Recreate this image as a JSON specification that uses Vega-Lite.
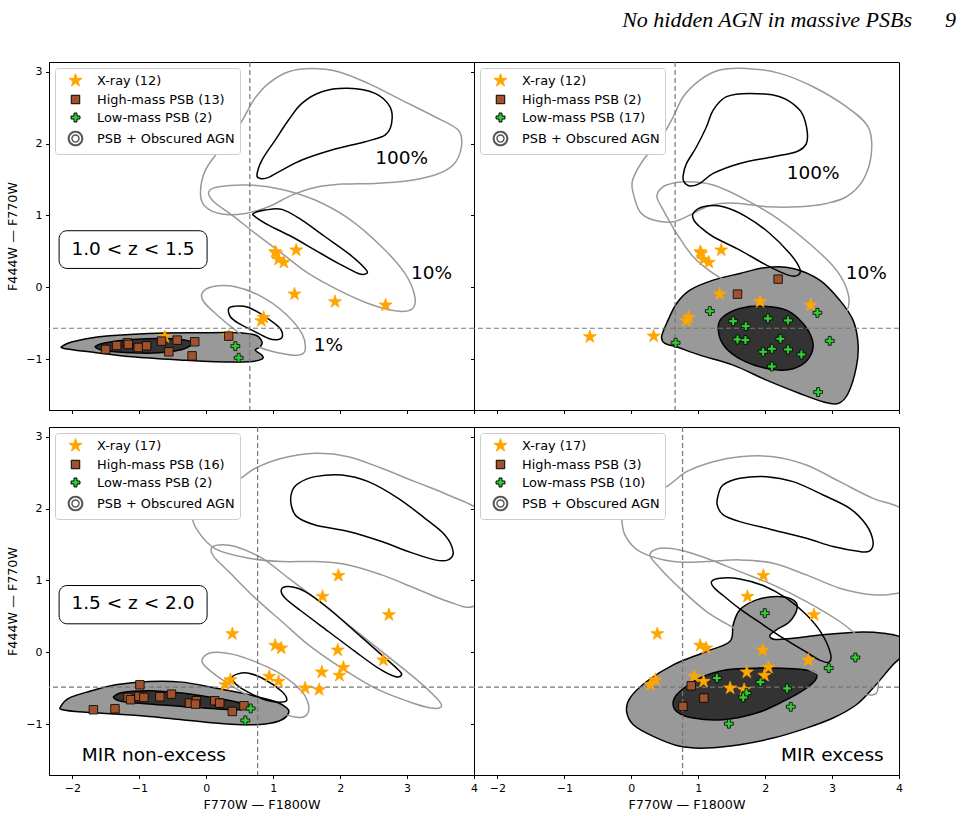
{
"$schema":"https://vega.github.io/schema/vega-lite/v6.json",
"padding":{"left":6,"top":8,"right":5,"bottom":5},
"title":{"text":"No hidden AGN in massive PSBs\u00a0\u00a0\u00a0\u00a0\u00a0\u00a09","anchor":"end","font":"Liberation Serif","fontStyle":"italic","fontWeight":"normal","fontSize":22,"color":"black","offset":29,"dx":53},
"config":{"font":"DejaVu Sans","view":{"stroke":"black","strokeWidth":1},
 "axis":{"domainColor":"black","tickColor":"black","tickSize":3.5,"labelColor":"black","labelFont":"DejaVu Sans","labelFontSize":11,"titleFont":"DejaVu Sans","titleFontSize":12.7,"titleFontWeight":"normal","titleColor":"black","grid":false,"labelPadding":3.5,"labelFlush":false,"format":"d"},
 "legend":{"title":null,"orient":"top-left","offset":6,"padding":5,"symbolOffset":8,"labelOffset":14,"rowPadding":3,"fillColor":"white","strokeColor":"#cccccc","cornerRadius":3,"labelFont":"DejaVu Sans","labelFontSize":12.9,"labelColor":"black","symbolSize":187,"symbolStrokeWidth":1,"symbolOpacity":1}},
"datasets":{
"contours":[
{"p":"TL","g":"psb_out","c":"o","i":0,"x":-2.149,"y":-0.821},{"p":"TL","g":"psb_out","c":"o","i":1,"x":-2.0,"y":-0.76},{"p":"TL","g":"psb_out","c":"o","i":2,"x":-1.603,"y":-0.691},{"p":"TL","g":"psb_out","c":"o","i":3,"x":-0.857,"y":-0.644},{"p":"TL","g":"psb_out","c":"o","i":4,"x":-0.112,"y":-0.635},{"p":"TL","g":"psb_out","c":"o","i":5,"x":0.434,"y":-0.635},{"p":"TL","g":"psb_out","c":"o","i":6,"x":0.732,"y":-0.667},{"p":"TL","g":"psb_out","c":"o","i":7,"x":0.832,"y":-0.76},{"p":"TL","g":"psb_out","c":"o","i":8,"x":0.807,"y":-0.83},{"p":"TL","g":"psb_out","c":"o","i":9,"x":0.732,"y":-0.876},{"p":"TL","g":"psb_out","c":"o","i":10,"x":0.832,"y":-0.946},{"p":"TL","g":"psb_out","c":"o","i":11,"x":0.832,"y":-1.002},{"p":"TL","g":"psb_out","c":"o","i":12,"x":0.633,"y":-1.039},{"p":"TL","g":"psb_out","c":"o","i":13,"x":0.136,"y":-1.039},{"p":"TL","g":"psb_out","c":"o","i":14,"x":-0.361,"y":-1.016},{"p":"TL","g":"psb_out","c":"o","i":15,"x":-1.106,"y":-0.969},{"p":"TL","g":"psb_out","c":"o","i":16,"x":-1.752,"y":-0.9},{"p":"TL","g":"psb_out","c":"o","i":17,"x":-2.124,"y":-0.853},
{"p":"TL","g":"psb_in","c":"i","i":0,"x":-1.652,"y":-0.821},{"p":"TL","g":"psb_in","c":"i","i":1,"x":-1.503,"y":-0.774},{"p":"TL","g":"psb_in","c":"i","i":2,"x":-1.106,"y":-0.728},{"p":"TL","g":"psb_in","c":"i","i":3,"x":-0.609,"y":-0.714},{"p":"TL","g":"psb_in","c":"i","i":4,"x":-0.311,"y":-0.737},{"p":"TL","g":"psb_in","c":"i","i":5,"x":-0.212,"y":-0.784},{"p":"TL","g":"psb_in","c":"i","i":6,"x":-0.361,"y":-0.867},{"p":"TL","g":"psb_in","c":"i","i":7,"x":-0.708,"y":-0.914},{"p":"TL","g":"psb_in","c":"i","i":8,"x":-1.106,"y":-0.914},{"p":"TL","g":"psb_in","c":"i","i":9,"x":-1.503,"y":-0.886},{"p":"TL","g":"psb_in","c":"i","i":10,"x":-1.627,"y":-0.853},
{"p":"TL","g":"agn_out","c":"100","i":0,"x":-0.087,"y":1.305},{"p":"TL","g":"agn_out","c":"100","i":1,"x":-0.013,"y":1.63},{"p":"TL","g":"agn_out","c":"100","i":2,"x":0.235,"y":1.955},{"p":"TL","g":"agn_out","c":"100","i":3,"x":0.509,"y":2.28},{"p":"TL","g":"agn_out","c":"100","i":4,"x":0.707,"y":2.605},{"p":"TL","g":"agn_out","c":"100","i":5,"x":0.931,"y":2.837},{"p":"TL","g":"agn_out","c":"100","i":6,"x":1.229,"y":3.0},{"p":"TL","g":"agn_out","c":"100","i":7,"x":1.577,"y":3.046},{"p":"TL","g":"agn_out","c":"100","i":8,"x":1.974,"y":3.0},{"p":"TL","g":"agn_out","c":"100","i":9,"x":2.421,"y":2.837},{"p":"TL","g":"agn_out","c":"100","i":10,"x":2.92,"y":2.605},{"p":"TL","g":"agn_out","c":"100","i":11,"x":3.415,"y":2.373},{"p":"TL","g":"agn_out","c":"100","i":12,"x":3.763,"y":2.188},{"p":"TL","g":"agn_out","c":"100","i":13,"x":3.812,"y":1.955},{"p":"TL","g":"agn_out","c":"100","i":14,"x":3.688,"y":1.7},{"p":"TL","g":"agn_out","c":"100","i":15,"x":3.415,"y":1.561},{"p":"TL","g":"agn_out","c":"100","i":16,"x":3.017,"y":1.482},{"p":"TL","g":"agn_out","c":"100","i":17,"x":2.521,"y":1.445},{"p":"TL","g":"agn_out","c":"100","i":18,"x":2.024,"y":1.435},{"p":"TL","g":"agn_out","c":"100","i":19,"x":1.626,"y":1.389},{"p":"TL","g":"agn_out","c":"100","i":20,"x":1.279,"y":1.282},{"p":"TL","g":"agn_out","c":"100","i":21,"x":0.931,"y":1.12},{"p":"TL","g":"agn_out","c":"100","i":22,"x":0.583,"y":1.027},{"p":"TL","g":"agn_out","c":"100","i":23,"x":0.235,"y":1.018},{"p":"TL","g":"agn_out","c":"100","i":24,"x":-0.013,"y":1.12},
{"p":"TL","g":"agn_out","c":"10","i":0,"x":0.037,"y":1.329},{"p":"TL","g":"agn_out","c":"10","i":1,"x":0.186,"y":1.398},{"p":"TL","g":"agn_out","c":"10","i":2,"x":0.633,"y":1.422},{"p":"TL","g":"agn_out","c":"10","i":3,"x":1.13,"y":1.361},{"p":"TL","g":"agn_out","c":"10","i":4,"x":1.626,"y":1.213},{"p":"TL","g":"agn_out","c":"10","i":5,"x":2.123,"y":0.957},{"p":"TL","g":"agn_out","c":"10","i":6,"x":2.62,"y":0.563},{"p":"TL","g":"agn_out","c":"10","i":7,"x":2.968,"y":0.191},{"p":"TL","g":"agn_out","c":"10","i":8,"x":3.117,"y":-0.134},{"p":"TL","g":"agn_out","c":"10","i":9,"x":3.067,"y":-0.31},{"p":"TL","g":"agn_out","c":"10","i":10,"x":2.819,"y":-0.329},{"p":"TL","g":"agn_out","c":"10","i":11,"x":2.421,"y":-0.227},{"p":"TL","g":"agn_out","c":"10","i":12,"x":1.974,"y":-0.041},{"p":"TL","g":"agn_out","c":"10","i":13,"x":1.527,"y":0.191},{"p":"TL","g":"agn_out","c":"10","i":14,"x":1.13,"y":0.47},{"p":"TL","g":"agn_out","c":"10","i":15,"x":0.732,"y":0.748},{"p":"TL","g":"agn_out","c":"10","i":16,"x":0.385,"y":1.004},{"p":"TL","g":"agn_out","c":"10","i":17,"x":0.112,"y":1.189},
{"p":"TL","g":"agn_out","c":"1","i":0,"x":-0.063,"y":-0.087},{"p":"TL","g":"agn_out","c":"1","i":1,"x":0.086,"y":0.006},{"p":"TL","g":"agn_out","c":"1","i":2,"x":0.434,"y":0.006},{"p":"TL","g":"agn_out","c":"1","i":3,"x":0.832,"y":-0.134},{"p":"TL","g":"agn_out","c":"1","i":4,"x":1.179,"y":-0.366},{"p":"TL","g":"agn_out","c":"1","i":5,"x":1.428,"y":-0.644},{"p":"TL","g":"agn_out","c":"1","i":6,"x":1.477,"y":-0.876},{"p":"TL","g":"agn_out","c":"1","i":7,"x":1.378,"y":-0.946},{"p":"TL","g":"agn_out","c":"1","i":8,"x":1.13,"y":-0.923},{"p":"TL","g":"agn_out","c":"1","i":9,"x":0.782,"y":-0.83},{"p":"TL","g":"agn_out","c":"1","i":10,"x":0.434,"y":-0.598},{"p":"TL","g":"agn_out","c":"1","i":11,"x":0.136,"y":-0.366},{"p":"TL","g":"agn_out","c":"1","i":12,"x":-0.038,"y":-0.203},
{"p":"TL","g":"agn_in","c":"100","i":0,"x":0.757,"y":1.561},{"p":"TL","g":"agn_in","c":"100","i":1,"x":0.832,"y":1.77},{"p":"TL","g":"agn_in","c":"100","i":2,"x":1.03,"y":2.048},{"p":"TL","g":"agn_in","c":"100","i":3,"x":1.229,"y":2.327},{"p":"TL","g":"agn_in","c":"100","i":4,"x":1.428,"y":2.559},{"p":"TL","g":"agn_in","c":"100","i":5,"x":1.726,"y":2.721},{"p":"TL","g":"agn_in","c":"100","i":6,"x":2.123,"y":2.768},{"p":"TL","g":"agn_in","c":"100","i":7,"x":2.521,"y":2.698},{"p":"TL","g":"agn_in","c":"100","i":8,"x":2.744,"y":2.513},{"p":"TL","g":"agn_in","c":"100","i":9,"x":2.769,"y":2.28},{"p":"TL","g":"agn_in","c":"100","i":10,"x":2.67,"y":2.118},{"p":"TL","g":"agn_in","c":"100","i":11,"x":2.372,"y":2.025},{"p":"TL","g":"agn_in","c":"100","i":12,"x":1.875,"y":1.909},{"p":"TL","g":"agn_in","c":"100","i":13,"x":1.428,"y":1.77},{"p":"TL","g":"agn_in","c":"100","i":14,"x":1.13,"y":1.63},{"p":"TL","g":"agn_in","c":"100","i":15,"x":0.931,"y":1.528},{"p":"TL","g":"agn_in","c":"100","i":16,"x":0.807,"y":1.514},
{"p":"TL","g":"agn_in","c":"10","i":0,"x":0.707,"y":1.027},{"p":"TL","g":"agn_in","c":"10","i":1,"x":0.881,"y":1.073},{"p":"TL","g":"agn_in","c":"10","i":2,"x":1.13,"y":1.083},{"p":"TL","g":"agn_in","c":"10","i":3,"x":1.428,"y":0.934},{"p":"TL","g":"agn_in","c":"10","i":4,"x":1.776,"y":0.702},{"p":"TL","g":"agn_in","c":"10","i":5,"x":2.123,"y":0.47},{"p":"TL","g":"agn_in","c":"10","i":6,"x":2.372,"y":0.261},{"p":"TL","g":"agn_in","c":"10","i":7,"x":2.396,"y":0.191},{"p":"TL","g":"agn_in","c":"10","i":8,"x":2.272,"y":0.191},{"p":"TL","g":"agn_in","c":"10","i":9,"x":1.974,"y":0.331},{"p":"TL","g":"agn_in","c":"10","i":10,"x":1.626,"y":0.516},{"p":"TL","g":"agn_in","c":"10","i":11,"x":1.279,"y":0.702},{"p":"TL","g":"agn_in","c":"10","i":12,"x":0.931,"y":0.864},{"p":"TL","g":"agn_in","c":"10","i":13,"x":0.732,"y":0.98},
{"p":"TL","g":"agn_in","c":"1","i":0,"x":0.335,"y":-0.296},{"p":"TL","g":"agn_in","c":"1","i":1,"x":0.434,"y":-0.264},{"p":"TL","g":"agn_in","c":"1","i":2,"x":0.633,"y":-0.282},{"p":"TL","g":"agn_in","c":"1","i":3,"x":0.881,"y":-0.412},{"p":"TL","g":"agn_in","c":"1","i":4,"x":1.08,"y":-0.552},{"p":"TL","g":"agn_in","c":"1","i":5,"x":1.14,"y":-0.668},{"p":"TL","g":"agn_in","c":"1","i":6,"x":1.08,"y":-0.728},{"p":"TL","g":"agn_in","c":"1","i":7,"x":0.931,"y":-0.714},{"p":"TL","g":"agn_in","c":"1","i":8,"x":0.683,"y":-0.598},{"p":"TL","g":"agn_in","c":"1","i":9,"x":0.484,"y":-0.505},{"p":"TL","g":"agn_in","c":"1","i":10,"x":0.36,"y":-0.412},
{"p":"TR","g":"psb_out","c":"o","i":0,"x":0.453,"y":-0.691},{"p":"TR","g":"psb_out","c":"o","i":1,"x":0.527,"y":-0.505},{"p":"TR","g":"psb_out","c":"o","i":2,"x":0.677,"y":-0.227},{"p":"TR","g":"psb_out","c":"o","i":3,"x":0.876,"y":-0.041},{"p":"TR","g":"psb_out","c":"o","i":4,"x":1.224,"y":0.098},{"p":"TR","g":"psb_out","c":"o","i":5,"x":1.622,"y":0.191},{"p":"TR","g":"psb_out","c":"o","i":6,"x":2.02,"y":0.275},{"p":"TR","g":"psb_out","c":"o","i":7,"x":2.418,"y":0.261},{"p":"TR","g":"psb_out","c":"o","i":8,"x":2.816,"y":0.098},{"p":"TR","g":"psb_out","c":"o","i":9,"x":3.114,"y":-0.18},{"p":"TR","g":"psb_out","c":"o","i":10,"x":3.313,"y":-0.459},{"p":"TR","g":"psb_out","c":"o","i":11,"x":3.388,"y":-0.784},{"p":"TR","g":"psb_out","c":"o","i":12,"x":3.363,"y":-1.109},{"p":"TR","g":"psb_out","c":"o","i":13,"x":3.239,"y":-1.48},{"p":"TR","g":"psb_out","c":"o","i":14,"x":3.09,"y":-1.619},{"p":"TR","g":"psb_out","c":"o","i":15,"x":2.866,"y":-1.596},{"p":"TR","g":"psb_out","c":"o","i":16,"x":2.517,"y":-1.48},{"p":"TR","g":"psb_out","c":"o","i":17,"x":2.02,"y":-1.294},{"p":"TR","g":"psb_out","c":"o","i":18,"x":1.522,"y":-1.085},{"p":"TR","g":"psb_out","c":"o","i":19,"x":1.025,"y":-0.946},{"p":"TR","g":"psb_out","c":"o","i":20,"x":0.677,"y":-0.83},{"p":"TR","g":"psb_out","c":"o","i":21,"x":0.502,"y":-0.784},
{"p":"TR","g":"psb_in","c":"i","i":0,"x":1.299,"y":-0.552},{"p":"TR","g":"psb_in","c":"i","i":1,"x":1.373,"y":-0.412},{"p":"TR","g":"psb_in","c":"i","i":2,"x":1.622,"y":-0.296},{"p":"TR","g":"psb_in","c":"i","i":3,"x":1.97,"y":-0.264},{"p":"TR","g":"psb_in","c":"i","i":4,"x":2.318,"y":-0.319},{"p":"TR","g":"psb_in","c":"i","i":5,"x":2.567,"y":-0.505},{"p":"TR","g":"psb_in","c":"i","i":6,"x":2.706,"y":-0.737},{"p":"TR","g":"psb_in","c":"i","i":7,"x":2.692,"y":-0.923},{"p":"TR","g":"psb_in","c":"i","i":8,"x":2.542,"y":-1.085},{"p":"TR","g":"psb_in","c":"i","i":9,"x":2.269,"y":-1.155},{"p":"TR","g":"psb_in","c":"i","i":10,"x":1.92,"y":-1.109},{"p":"TR","g":"psb_in","c":"i","i":11,"x":1.572,"y":-0.969},{"p":"TR","g":"psb_in","c":"i","i":12,"x":1.363,"y":-0.784},
{"p":"TR","g":"agn_out","c":"100","i":0,"x":0.03,"y":1.305},{"p":"TR","g":"agn_out","c":"100","i":1,"x":0.02,"y":1.491},{"p":"TR","g":"agn_out","c":"100","i":2,"x":0.179,"y":1.77},{"p":"TR","g":"agn_out","c":"100","i":3,"x":0.428,"y":2.048},{"p":"TR","g":"agn_out","c":"100","i":4,"x":0.627,"y":2.373},{"p":"TR","g":"agn_out","c":"100","i":5,"x":0.776,"y":2.652},{"p":"TR","g":"agn_out","c":"100","i":6,"x":1.025,"y":2.884},{"p":"TR","g":"agn_out","c":"100","i":7,"x":1.323,"y":3.023},{"p":"TR","g":"agn_out","c":"100","i":8,"x":1.721,"y":3.046},{"p":"TR","g":"agn_out","c":"100","i":9,"x":2.219,"y":2.977},{"p":"TR","g":"agn_out","c":"100","i":10,"x":2.716,"y":2.791},{"p":"TR","g":"agn_out","c":"100","i":11,"x":3.214,"y":2.513},{"p":"TR","g":"agn_out","c":"100","i":12,"x":3.537,"y":2.234},{"p":"TR","g":"agn_out","c":"100","i":13,"x":3.587,"y":1.863},{"p":"TR","g":"agn_out","c":"100","i":14,"x":3.463,"y":1.491},{"p":"TR","g":"agn_out","c":"100","i":15,"x":3.214,"y":1.259},{"p":"TR","g":"agn_out","c":"100","i":16,"x":2.915,"y":1.166},{"p":"TR","g":"agn_out","c":"100","i":17,"x":2.517,"y":1.12},{"p":"TR","g":"agn_out","c":"100","i":18,"x":2.02,"y":1.12},{"p":"TR","g":"agn_out","c":"100","i":19,"x":1.622,"y":1.166},{"p":"TR","g":"agn_out","c":"100","i":20,"x":1.323,"y":1.166},{"p":"TR","g":"agn_out","c":"100","i":21,"x":1.124,"y":1.12},{"p":"TR","g":"agn_out","c":"100","i":22,"x":0.876,"y":1.004},{"p":"TR","g":"agn_out","c":"100","i":23,"x":0.627,"y":0.911},{"p":"TR","g":"agn_out","c":"100","i":24,"x":0.328,"y":0.934},{"p":"TR","g":"agn_out","c":"100","i":25,"x":0.129,"y":1.05},
{"p":"TR","g":"agn_out","c":"10","i":0,"x":0.403,"y":1.329},{"p":"TR","g":"agn_out","c":"10","i":1,"x":0.527,"y":1.422},{"p":"TR","g":"agn_out","c":"10","i":2,"x":0.826,"y":1.468},{"p":"TR","g":"agn_out","c":"10","i":3,"x":1.224,"y":1.422},{"p":"TR","g":"agn_out","c":"10","i":4,"x":1.721,"y":1.213},{"p":"TR","g":"agn_out","c":"10","i":5,"x":2.219,"y":0.934},{"p":"TR","g":"agn_out","c":"10","i":6,"x":2.716,"y":0.563},{"p":"TR","g":"agn_out","c":"10","i":7,"x":3.065,"y":0.238},{"p":"TR","g":"agn_out","c":"10","i":8,"x":3.239,"y":-0.087},{"p":"TR","g":"agn_out","c":"10","i":9,"x":3.214,"y":-0.343},{"p":"TR","g":"agn_out","c":"10","i":10,"x":3.015,"y":-0.412},{"p":"TR","g":"agn_out","c":"10","i":11,"x":2.766,"y":-0.389},{"p":"TR","g":"agn_out","c":"10","i":12,"x":2.368,"y":-0.273},{"p":"TR","g":"agn_out","c":"10","i":13,"x":1.97,"y":-0.134},{"p":"TR","g":"agn_out","c":"10","i":14,"x":1.572,"y":0.006},{"p":"TR","g":"agn_out","c":"10","i":15,"x":1.224,"y":0.191},{"p":"TR","g":"agn_out","c":"10","i":16,"x":0.925,"y":0.423},{"p":"TR","g":"agn_out","c":"10","i":17,"x":0.677,"y":0.748},{"p":"TR","g":"agn_out","c":"10","i":18,"x":0.478,"y":1.073},{"p":"TR","g":"agn_out","c":"10","i":19,"x":0.388,"y":1.236},
{"p":"TR","g":"agn_in","c":"100","i":0,"x":0.776,"y":1.561},{"p":"TR","g":"agn_in","c":"100","i":1,"x":0.826,"y":1.723},{"p":"TR","g":"agn_in","c":"100","i":2,"x":0.975,"y":1.955},{"p":"TR","g":"agn_in","c":"100","i":3,"x":1.124,"y":2.234},{"p":"TR","g":"agn_in","c":"100","i":4,"x":1.224,"y":2.466},{"p":"TR","g":"agn_in","c":"100","i":5,"x":1.423,"y":2.652},{"p":"TR","g":"agn_in","c":"100","i":6,"x":1.771,"y":2.698},{"p":"TR","g":"agn_in","c":"100","i":7,"x":2.219,"y":2.652},{"p":"TR","g":"agn_in","c":"100","i":8,"x":2.517,"y":2.466},{"p":"TR","g":"agn_in","c":"100","i":9,"x":2.617,"y":2.234},{"p":"TR","g":"agn_in","c":"100","i":10,"x":2.617,"y":2.002},{"p":"TR","g":"agn_in","c":"100","i":11,"x":2.468,"y":1.886},{"p":"TR","g":"agn_in","c":"100","i":12,"x":2.119,"y":1.816},{"p":"TR","g":"agn_in","c":"100","i":13,"x":1.622,"y":1.723},{"p":"TR","g":"agn_in","c":"100","i":14,"x":1.224,"y":1.584},{"p":"TR","g":"agn_in","c":"100","i":15,"x":1.025,"y":1.445},{"p":"TR","g":"agn_in","c":"100","i":16,"x":0.876,"y":1.408},{"p":"TR","g":"agn_in","c":"100","i":17,"x":0.786,"y":1.468},
{"p":"TR","g":"agn_in","c":"10","i":0,"x":0.925,"y":1.027},{"p":"TR","g":"agn_in","c":"10","i":1,"x":1.075,"y":1.12},{"p":"TR","g":"agn_in","c":"10","i":2,"x":1.373,"y":1.12},{"p":"TR","g":"agn_in","c":"10","i":3,"x":1.721,"y":0.98},{"p":"TR","g":"agn_in","c":"10","i":4,"x":2.07,"y":0.748},{"p":"TR","g":"agn_in","c":"10","i":5,"x":2.368,"y":0.47},{"p":"TR","g":"agn_in","c":"10","i":6,"x":2.517,"y":0.261},{"p":"TR","g":"agn_in","c":"10","i":7,"x":2.493,"y":0.168},{"p":"TR","g":"agn_in","c":"10","i":8,"x":2.343,"y":0.168},{"p":"TR","g":"agn_in","c":"10","i":9,"x":2.02,"y":0.307},{"p":"TR","g":"agn_in","c":"10","i":10,"x":1.622,"y":0.516},{"p":"TR","g":"agn_in","c":"10","i":11,"x":1.224,"y":0.702},{"p":"TR","g":"agn_in","c":"10","i":12,"x":1.025,"y":0.841},{"p":"TR","g":"agn_in","c":"10","i":13,"x":0.935,"y":0.934},
{"p":"BL","g":"psb_out","c":"o","i":0,"x":-2.174,"y":-0.755},{"p":"BL","g":"psb_out","c":"o","i":1,"x":-2.05,"y":-0.639},{"p":"BL","g":"psb_out","c":"o","i":2,"x":-1.752,"y":-0.547},{"p":"BL","g":"psb_out","c":"o","i":3,"x":-1.354,"y":-0.454},{"p":"BL","g":"psb_out","c":"o","i":4,"x":-0.857,"y":-0.408},{"p":"BL","g":"psb_out","c":"o","i":5,"x":-0.361,"y":-0.417},{"p":"BL","g":"psb_out","c":"o","i":6,"x":0.136,"y":-0.5},{"p":"BL","g":"psb_out","c":"o","i":7,"x":0.633,"y":-0.593},{"p":"BL","g":"psb_out","c":"o","i":8,"x":1.03,"y":-0.686},{"p":"BL","g":"psb_out","c":"o","i":9,"x":1.204,"y":-0.778},{"p":"BL","g":"psb_out","c":"o","i":10,"x":1.229,"y":-0.848},{"p":"BL","g":"psb_out","c":"o","i":11,"x":1.13,"y":-0.941},{"p":"BL","g":"psb_out","c":"o","i":12,"x":0.881,"y":-1.001},{"p":"BL","g":"psb_out","c":"o","i":13,"x":0.534,"y":-1.01},{"p":"BL","g":"psb_out","c":"o","i":14,"x":0.136,"y":-0.987},{"p":"BL","g":"psb_out","c":"o","i":15,"x":-0.361,"y":-0.941},{"p":"BL","g":"psb_out","c":"o","i":16,"x":-0.857,"y":-0.894},{"p":"BL","g":"psb_out","c":"o","i":17,"x":-1.354,"y":-0.862},{"p":"BL","g":"psb_out","c":"o","i":18,"x":-1.851,"y":-0.834},{"p":"BL","g":"psb_out","c":"o","i":19,"x":-2.149,"y":-0.801},
{"p":"BL","g":"psb_in","c":"i","i":0,"x":-1.379,"y":-0.616},{"p":"BL","g":"psb_in","c":"i","i":1,"x":-1.255,"y":-0.56},{"p":"BL","g":"psb_in","c":"i","i":2,"x":-0.857,"y":-0.537},{"p":"BL","g":"psb_in","c":"i","i":3,"x":-0.361,"y":-0.57},{"p":"BL","g":"psb_in","c":"i","i":4,"x":0.136,"y":-0.639},{"p":"BL","g":"psb_in","c":"i","i":5,"x":0.484,"y":-0.7},{"p":"BL","g":"psb_in","c":"i","i":6,"x":0.583,"y":-0.755},{"p":"BL","g":"psb_in","c":"i","i":7,"x":0.509,"y":-0.802},{"p":"BL","g":"psb_in","c":"i","i":8,"x":0.136,"y":-0.788},{"p":"BL","g":"psb_in","c":"i","i":9,"x":-0.361,"y":-0.755},{"p":"BL","g":"psb_in","c":"i","i":10,"x":-0.857,"y":-0.723},{"p":"BL","g":"psb_in","c":"i","i":11,"x":-1.255,"y":-0.686},{"p":"BL","g":"psb_in","c":"i","i":12,"x":-1.364,"y":-0.649},
{"p":"BL","g":"agn_out","c":"100","i":0,"x":-0.212,"y":1.934},{"p":"BL","g":"agn_out","c":"100","i":1,"x":-0.112,"y":2.166},{"p":"BL","g":"agn_out","c":"100","i":2,"x":0.235,"y":2.328},{"p":"BL","g":"agn_out","c":"100","i":3,"x":0.509,"y":2.42},{"p":"BL","g":"agn_out","c":"100","i":4,"x":0.732,"y":2.56},{"p":"BL","g":"agn_out","c":"100","i":5,"x":1.13,"y":2.699},{"p":"BL","g":"agn_out","c":"100","i":6,"x":1.626,"y":2.768},{"p":"BL","g":"agn_out","c":"100","i":7,"x":2.123,"y":2.722},{"p":"BL","g":"agn_out","c":"100","i":8,"x":2.62,"y":2.56},{"p":"BL","g":"agn_out","c":"100","i":9,"x":3.117,"y":2.374},{"p":"BL","g":"agn_out","c":"100","i":10,"x":3.614,"y":2.189},{"p":"BL","g":"agn_out","c":"100","i":11,"x":4.11,"y":1.957},{"p":"BL","g":"agn_out","c":"100","i":12,"x":4.359,"y":1.54},{"p":"BL","g":"agn_out","c":"100","i":13,"x":4.259,"y":0.937},{"p":"BL","g":"agn_out","c":"100","i":14,"x":3.986,"y":0.636},{"p":"BL","g":"agn_out","c":"100","i":15,"x":3.614,"y":0.705},{"p":"BL","g":"agn_out","c":"100","i":16,"x":3.117,"y":0.891},{"p":"BL","g":"agn_out","c":"100","i":17,"x":2.62,"y":1.076},{"p":"BL","g":"agn_out","c":"100","i":18,"x":2.123,"y":1.215},{"p":"BL","g":"agn_out","c":"100","i":19,"x":1.626,"y":1.261},{"p":"BL","g":"agn_out","c":"100","i":20,"x":1.13,"y":1.261},{"p":"BL","g":"agn_out","c":"100","i":21,"x":0.633,"y":1.308},{"p":"BL","g":"agn_out","c":"100","i":22,"x":0.136,"y":1.438},{"p":"BL","g":"agn_out","c":"100","i":23,"x":-0.137,"y":1.702},
{"p":"BL","g":"agn_out","c":"10","i":0,"x":0.077,"y":1.447},{"p":"BL","g":"agn_out","c":"10","i":1,"x":0.186,"y":1.493},{"p":"BL","g":"agn_out","c":"10","i":2,"x":0.434,"y":1.47},{"p":"BL","g":"agn_out","c":"10","i":3,"x":0.832,"y":1.308},{"p":"BL","g":"agn_out","c":"10","i":4,"x":1.229,"y":1.03},{"p":"BL","g":"agn_out","c":"10","i":5,"x":1.626,"y":0.751},{"p":"BL","g":"agn_out","c":"10","i":6,"x":2.123,"y":0.381},{"p":"BL","g":"agn_out","c":"10","i":7,"x":2.62,"y":0.01},{"p":"BL","g":"agn_out","c":"10","i":8,"x":3.117,"y":-0.361},{"p":"BL","g":"agn_out","c":"10","i":9,"x":3.44,"y":-0.639},{"p":"BL","g":"agn_out","c":"10","i":10,"x":3.514,"y":-0.755},{"p":"BL","g":"agn_out","c":"10","i":11,"x":3.365,"y":-0.778},{"p":"BL","g":"agn_out","c":"10","i":12,"x":3.017,"y":-0.686},{"p":"BL","g":"agn_out","c":"10","i":13,"x":2.521,"y":-0.5},{"p":"BL","g":"agn_out","c":"10","i":14,"x":2.024,"y":-0.222},{"p":"BL","g":"agn_out","c":"10","i":15,"x":1.527,"y":0.102},{"p":"BL","g":"agn_out","c":"10","i":16,"x":1.13,"y":0.427},{"p":"BL","g":"agn_out","c":"10","i":17,"x":0.732,"y":0.752},{"p":"BL","g":"agn_out","c":"10","i":18,"x":0.335,"y":1.122},{"p":"BL","g":"agn_out","c":"10","i":19,"x":0.112,"y":1.331},
{"p":"BL","g":"agn_out","c":"1","i":0,"x":-0.053,"y":-0.083},{"p":"BL","g":"agn_out","c":"1","i":1,"x":0.086,"y":-0.004},{"p":"BL","g":"agn_out","c":"1","i":2,"x":0.384,"y":-0.027},{"p":"BL","g":"agn_out","c":"1","i":3,"x":0.782,"y":-0.152},{"p":"BL","g":"agn_out","c":"1","i":4,"x":1.13,"y":-0.315},{"p":"BL","g":"agn_out","c":"1","i":5,"x":1.428,"y":-0.547},{"p":"BL","g":"agn_out","c":"1","i":6,"x":1.527,"y":-0.732},{"p":"BL","g":"agn_out","c":"1","i":7,"x":1.502,"y":-0.871},{"p":"BL","g":"agn_out","c":"1","i":8,"x":1.378,"y":-0.908},{"p":"BL","g":"agn_out","c":"1","i":9,"x":1.13,"y":-0.848},{"p":"BL","g":"agn_out","c":"1","i":10,"x":0.782,"y":-0.686},{"p":"BL","g":"agn_out","c":"1","i":11,"x":0.434,"y":-0.5},{"p":"BL","g":"agn_out","c":"1","i":12,"x":0.136,"y":-0.315},{"p":"BL","g":"agn_out","c":"1","i":13,"x":-0.038,"y":-0.176},
{"p":"BL","g":"agn_in","c":"100","i":0,"x":1.279,"y":2.235},{"p":"BL","g":"agn_in","c":"100","i":1,"x":1.378,"y":2.351},{"p":"BL","g":"agn_in","c":"100","i":2,"x":1.626,"y":2.444},{"p":"BL","g":"agn_in","c":"100","i":3,"x":2.024,"y":2.467},{"p":"BL","g":"agn_in","c":"100","i":4,"x":2.421,"y":2.374},{"p":"BL","g":"agn_in","c":"100","i":5,"x":2.868,"y":2.142},{"p":"BL","g":"agn_in","c":"100","i":6,"x":3.266,"y":1.864},{"p":"BL","g":"agn_in","c":"100","i":7,"x":3.564,"y":1.632},{"p":"BL","g":"agn_in","c":"100","i":8,"x":3.688,"y":1.401},{"p":"BL","g":"agn_in","c":"100","i":9,"x":3.614,"y":1.285},{"p":"BL","g":"agn_in","c":"100","i":10,"x":3.415,"y":1.285},{"p":"BL","g":"agn_in","c":"100","i":11,"x":3.017,"y":1.401},{"p":"BL","g":"agn_in","c":"100","i":12,"x":2.62,"y":1.54},{"p":"BL","g":"agn_in","c":"100","i":13,"x":2.123,"y":1.679},{"p":"BL","g":"agn_in","c":"100","i":14,"x":1.626,"y":1.771},{"p":"BL","g":"agn_in","c":"100","i":15,"x":1.353,"y":1.887},{"p":"BL","g":"agn_in","c":"100","i":16,"x":1.269,"y":2.05},
{"p":"BL","g":"agn_in","c":"10","i":0,"x":1.12,"y":0.867},{"p":"BL","g":"agn_in","c":"10","i":1,"x":1.229,"y":0.914},{"p":"BL","g":"agn_in","c":"10","i":2,"x":1.477,"y":0.844},{"p":"BL","g":"agn_in","c":"10","i":3,"x":1.825,"y":0.612},{"p":"BL","g":"agn_in","c":"10","i":4,"x":2.222,"y":0.288},{"p":"BL","g":"agn_in","c":"10","i":5,"x":2.62,"y":-0.037},{"p":"BL","g":"agn_in","c":"10","i":6,"x":2.868,"y":-0.245},{"p":"BL","g":"agn_in","c":"10","i":7,"x":2.918,"y":-0.315},{"p":"BL","g":"agn_in","c":"10","i":8,"x":2.819,"y":-0.338},{"p":"BL","g":"agn_in","c":"10","i":9,"x":2.57,"y":-0.222},{"p":"BL","g":"agn_in","c":"10","i":10,"x":2.222,"y":0.01},{"p":"BL","g":"agn_in","c":"10","i":11,"x":1.825,"y":0.288},{"p":"BL","g":"agn_in","c":"10","i":12,"x":1.428,"y":0.566},{"p":"BL","g":"agn_in","c":"10","i":13,"x":1.179,"y":0.751},
{"p":"BL","g":"agn_in","c":"1","i":0,"x":0.384,"y":-0.361},{"p":"BL","g":"agn_in","c":"1","i":1,"x":0.459,"y":-0.306},{"p":"BL","g":"agn_in","c":"1","i":2,"x":0.633,"y":-0.292},{"p":"BL","g":"agn_in","c":"1","i":3,"x":0.881,"y":-0.384},{"p":"BL","g":"agn_in","c":"1","i":4,"x":1.13,"y":-0.547},{"p":"BL","g":"agn_in","c":"1","i":5,"x":1.204,"y":-0.662},{"p":"BL","g":"agn_in","c":"1","i":6,"x":1.13,"y":-0.695},{"p":"BL","g":"agn_in","c":"1","i":7,"x":0.931,"y":-0.676},{"p":"BL","g":"agn_in","c":"1","i":8,"x":0.683,"y":-0.584},{"p":"BL","g":"agn_in","c":"1","i":9,"x":0.484,"y":-0.477},
{"p":"BR","g":"psb_out","c":"o","i":0,"x":-0.07,"y":-0.825},{"p":"BR","g":"psb_out","c":"o","i":1,"x":-0.02,"y":-0.639},{"p":"BR","g":"psb_out","c":"o","i":2,"x":0.229,"y":-0.408},{"p":"BR","g":"psb_out","c":"o","i":3,"x":0.627,"y":-0.176},{"p":"BR","g":"psb_out","c":"o","i":4,"x":1.124,"y":0.01},{"p":"BR","g":"psb_out","c":"o","i":5,"x":1.473,"y":0.149},{"p":"BR","g":"psb_out","c":"o","i":6,"x":1.522,"y":0.381},{"p":"BR","g":"psb_out","c":"o","i":7,"x":1.622,"y":0.589},{"p":"BR","g":"psb_out","c":"o","i":8,"x":1.871,"y":0.728},{"p":"BR","g":"psb_out","c":"o","i":9,"x":2.169,"y":0.775},{"p":"BR","g":"psb_out","c":"o","i":10,"x":2.418,"y":0.728},{"p":"BR","g":"psb_out","c":"o","i":11,"x":2.478,"y":0.612},{"p":"BR","g":"psb_out","c":"o","i":12,"x":2.368,"y":0.427},{"p":"BR","g":"psb_out","c":"o","i":13,"x":2.169,"y":0.311},{"p":"BR","g":"psb_out","c":"o","i":14,"x":2.07,"y":0.232},{"p":"BR","g":"psb_out","c":"o","i":15,"x":2.144,"y":0.177},{"p":"BR","g":"psb_out","c":"o","i":16,"x":2.418,"y":0.195},{"p":"BR","g":"psb_out","c":"o","i":17,"x":2.866,"y":0.242},{"p":"BR","g":"psb_out","c":"o","i":18,"x":3.363,"y":0.279},{"p":"BR","g":"psb_out","c":"o","i":19,"x":3.761,"y":0.265},{"p":"BR","g":"psb_out","c":"o","i":20,"x":4.06,"y":0.195},{"p":"BR","g":"psb_out","c":"o","i":21,"x":4.109,"y":0.01},{"p":"BR","g":"psb_out","c":"o","i":22,"x":3.91,"y":-0.176},{"p":"BR","g":"psb_out","c":"o","i":23,"x":3.612,"y":-0.5},{"p":"BR","g":"psb_out","c":"o","i":24,"x":3.363,"y":-0.732},{"p":"BR","g":"psb_out","c":"o","i":25,"x":3.015,"y":-0.917},{"p":"BR","g":"psb_out","c":"o","i":26,"x":2.617,"y":-1.057},{"p":"BR","g":"psb_out","c":"o","i":27,"x":2.119,"y":-1.196},{"p":"BR","g":"psb_out","c":"o","i":28,"x":1.622,"y":-1.288},{"p":"BR","g":"psb_out","c":"o","i":29,"x":1.124,"y":-1.335},{"p":"BR","g":"psb_out","c":"o","i":30,"x":0.726,"y":-1.311},{"p":"BR","g":"psb_out","c":"o","i":31,"x":0.328,"y":-1.172},{"p":"BR","g":"psb_out","c":"o","i":32,"x":0.03,"y":-1.01},
{"p":"BR","g":"psb_in","c":"i","i":0,"x":0.627,"y":-0.686},{"p":"BR","g":"psb_in","c":"i","i":1,"x":0.726,"y":-0.547},{"p":"BR","g":"psb_in","c":"i","i":2,"x":1.025,"y":-0.361},{"p":"BR","g":"psb_in","c":"i","i":3,"x":1.423,"y":-0.245},{"p":"BR","g":"psb_in","c":"i","i":4,"x":1.92,"y":-0.222},{"p":"BR","g":"psb_in","c":"i","i":5,"x":2.418,"y":-0.231},{"p":"BR","g":"psb_in","c":"i","i":6,"x":2.716,"y":-0.269},{"p":"BR","g":"psb_in","c":"i","i":7,"x":2.766,"y":-0.361},{"p":"BR","g":"psb_in","c":"i","i":8,"x":2.617,"y":-0.5},{"p":"BR","g":"psb_in","c":"i","i":9,"x":2.269,"y":-0.686},{"p":"BR","g":"psb_in","c":"i","i":10,"x":1.871,"y":-0.848},{"p":"BR","g":"psb_in","c":"i","i":11,"x":1.373,"y":-0.941},{"p":"BR","g":"psb_in","c":"i","i":12,"x":0.925,"y":-0.918},{"p":"BR","g":"psb_in","c":"i","i":13,"x":0.677,"y":-0.825},
{"p":"BR","g":"agn_out","c":"100","i":0,"x":-0.144,"y":1.911},{"p":"BR","g":"agn_out","c":"100","i":1,"x":-0.119,"y":2.05},{"p":"BR","g":"agn_out","c":"100","i":2,"x":0.129,"y":2.142},{"p":"BR","g":"agn_out","c":"100","i":3,"x":0.527,"y":2.304},{"p":"BR","g":"agn_out","c":"100","i":4,"x":0.826,"y":2.513},{"p":"BR","g":"agn_out","c":"100","i":5,"x":1.224,"y":2.652},{"p":"BR","g":"agn_out","c":"100","i":6,"x":1.622,"y":2.722},{"p":"BR","g":"agn_out","c":"100","i":7,"x":2.119,"y":2.722},{"p":"BR","g":"agn_out","c":"100","i":8,"x":2.617,"y":2.606},{"p":"BR","g":"agn_out","c":"100","i":9,"x":3.114,"y":2.374},{"p":"BR","g":"agn_out","c":"100","i":10,"x":3.612,"y":2.142},{"p":"BR","g":"agn_out","c":"100","i":11,"x":3.985,"y":2.026},{"p":"BR","g":"agn_out","c":"100","i":12,"x":4.358,"y":1.771},{"p":"BR","g":"agn_out","c":"100","i":13,"x":4.408,"y":1.215},{"p":"BR","g":"agn_out","c":"100","i":14,"x":4.209,"y":0.891},{"p":"BR","g":"agn_out","c":"100","i":15,"x":3.985,"y":0.821},{"p":"BR","g":"agn_out","c":"100","i":16,"x":3.612,"y":0.798},{"p":"BR","g":"agn_out","c":"100","i":17,"x":3.114,"y":0.891},{"p":"BR","g":"agn_out","c":"100","i":18,"x":2.617,"y":1.076},{"p":"BR","g":"agn_out","c":"100","i":19,"x":2.119,"y":1.238},{"p":"BR","g":"agn_out","c":"100","i":20,"x":1.622,"y":1.285},{"p":"BR","g":"agn_out","c":"100","i":21,"x":1.124,"y":1.261},{"p":"BR","g":"agn_out","c":"100","i":22,"x":0.627,"y":1.261},{"p":"BR","g":"agn_out","c":"100","i":23,"x":0.129,"y":1.401},{"p":"BR","g":"agn_out","c":"100","i":24,"x":-0.095,"y":1.633},
{"p":"BR","g":"agn_out","c":"10","i":0,"x":0.279,"y":1.354},{"p":"BR","g":"agn_out","c":"10","i":1,"x":0.428,"y":1.447},{"p":"BR","g":"agn_out","c":"10","i":2,"x":0.726,"y":1.424},{"p":"BR","g":"agn_out","c":"10","i":3,"x":1.124,"y":1.308},{"p":"BR","g":"agn_out","c":"10","i":4,"x":1.622,"y":1.122},{"p":"BR","g":"agn_out","c":"10","i":5,"x":2.119,"y":0.937},{"p":"BR","g":"agn_out","c":"10","i":6,"x":2.617,"y":0.705},{"p":"BR","g":"agn_out","c":"10","i":7,"x":3.114,"y":0.427},{"p":"BR","g":"agn_out","c":"10","i":8,"x":3.463,"y":0.149},{"p":"BR","g":"agn_out","c":"10","i":9,"x":3.662,"y":-0.176},{"p":"BR","g":"agn_out","c":"10","i":10,"x":3.687,"y":-0.5},{"p":"BR","g":"agn_out","c":"10","i":11,"x":3.612,"y":-0.593},{"p":"BR","g":"agn_out","c":"10","i":12,"x":3.413,"y":-0.57},{"p":"BR","g":"agn_out","c":"10","i":13,"x":3.114,"y":-0.454},{"p":"BR","g":"agn_out","c":"10","i":14,"x":2.617,"y":-0.222},{"p":"BR","g":"agn_out","c":"10","i":15,"x":2.119,"y":0.01},{"p":"BR","g":"agn_out","c":"10","i":16,"x":1.622,"y":0.288},{"p":"BR","g":"agn_out","c":"10","i":17,"x":1.124,"y":0.566},{"p":"BR","g":"agn_out","c":"10","i":18,"x":0.726,"y":0.891},{"p":"BR","g":"agn_out","c":"10","i":19,"x":0.428,"y":1.169},
{"p":"BR","g":"agn_in","c":"100","i":0,"x":1.299,"y":2.189},{"p":"BR","g":"agn_in","c":"100","i":1,"x":1.373,"y":2.328},{"p":"BR","g":"agn_in","c":"100","i":2,"x":1.622,"y":2.42},{"p":"BR","g":"agn_in","c":"100","i":3,"x":2.02,"y":2.444},{"p":"BR","g":"agn_in","c":"100","i":4,"x":2.418,"y":2.374},{"p":"BR","g":"agn_in","c":"100","i":5,"x":2.866,"y":2.189},{"p":"BR","g":"agn_in","c":"100","i":6,"x":3.264,"y":2.003},{"p":"BR","g":"agn_in","c":"100","i":7,"x":3.512,"y":1.771},{"p":"BR","g":"agn_in","c":"100","i":8,"x":3.612,"y":1.54},{"p":"BR","g":"agn_in","c":"100","i":9,"x":3.562,"y":1.41},{"p":"BR","g":"agn_in","c":"100","i":10,"x":3.413,"y":1.401},{"p":"BR","g":"agn_in","c":"100","i":11,"x":3.015,"y":1.47},{"p":"BR","g":"agn_in","c":"100","i":12,"x":2.617,"y":1.586},{"p":"BR","g":"agn_in","c":"100","i":13,"x":2.119,"y":1.702},{"p":"BR","g":"agn_in","c":"100","i":14,"x":1.622,"y":1.818},{"p":"BR","g":"agn_in","c":"100","i":15,"x":1.373,"y":1.911},{"p":"BR","g":"agn_in","c":"100","i":16,"x":1.284,"y":2.05},
{"p":"BR","g":"agn_in","c":"10","i":0,"x":1.199,"y":0.983},{"p":"BR","g":"agn_in","c":"10","i":1,"x":1.323,"y":1.03},{"p":"BR","g":"agn_in","c":"10","i":2,"x":1.622,"y":1.02},{"p":"BR","g":"agn_in","c":"10","i":3,"x":1.97,"y":0.928},{"p":"BR","g":"agn_in","c":"10","i":4,"x":2.318,"y":0.751},{"p":"BR","g":"agn_in","c":"10","i":5,"x":2.617,"y":0.52},{"p":"BR","g":"agn_in","c":"10","i":6,"x":2.841,"y":0.265},{"p":"BR","g":"agn_in","c":"10","i":7,"x":2.975,"y":-0.013},{"p":"BR","g":"agn_in","c":"10","i":8,"x":2.955,"y":-0.139},{"p":"BR","g":"agn_in","c":"10","i":9,"x":2.816,"y":-0.111},{"p":"BR","g":"agn_in","c":"10","i":10,"x":2.567,"y":0.028},{"p":"BR","g":"agn_in","c":"10","i":11,"x":2.269,"y":0.195},{"p":"BR","g":"agn_in","c":"10","i":12,"x":1.97,"y":0.381},{"p":"BR","g":"agn_in","c":"10","i":13,"x":1.622,"y":0.603},{"p":"BR","g":"agn_in","c":"10","i":14,"x":1.373,"y":0.789},{"p":"BR","g":"agn_in","c":"10","i":15,"x":1.234,"y":0.9}
],
"pts":[
{"p":"TL","cat":"X-ray (12)","x":1.03,"y":0.493},{"p":"TL","cat":"X-ray (12)","x":1.045,"y":0.47},{"p":"TL","cat":"X-ray (12)","x":1.343,"y":0.516},{"p":"TL","cat":"X-ray (12)","x":1.08,"y":0.386},{"p":"TL","cat":"X-ray (12)","x":1.159,"y":0.345},{"p":"TL","cat":"X-ray (12)","x":1.318,"y":-0.097},{"p":"TL","cat":"X-ray (12)","x":1.924,"y":-0.203},{"p":"TL","cat":"X-ray (12)","x":2.68,"y":-0.25},{"p":"TL","cat":"X-ray (12)","x":0.857,"y":-0.422},{"p":"TL","cat":"X-ray (12)","x":0.822,"y":-0.468},{"p":"TL","cat":"X-ray (12)","x":-0.619,"y":-0.691},{"p":"TL","cat":"X-ray (12)","x":0.335,"y":-0.682},
{"p":"TL","cat":"High-mass PSB (13)","x":-1.503,"y":-0.867},{"p":"TL","cat":"High-mass PSB (13)","x":-1.339,"y":-0.812},{"p":"TL","cat":"High-mass PSB (13)","x":-1.18,"y":-0.774},{"p":"TL","cat":"High-mass PSB (13)","x":-1.165,"y":-0.797},{"p":"TL","cat":"High-mass PSB (13)","x":-1.031,"y":-0.853},{"p":"TL","cat":"High-mass PSB (13)","x":-1.016,"y":-0.839},{"p":"TL","cat":"High-mass PSB (13)","x":-0.892,"y":-0.816},{"p":"TL","cat":"High-mass PSB (13)","x":-0.669,"y":-0.751},{"p":"TL","cat":"High-mass PSB (13)","x":-0.435,"y":-0.737},{"p":"TL","cat":"High-mass PSB (13)","x":-0.172,"y":-0.76},{"p":"TL","cat":"High-mass PSB (13)","x":-0.559,"y":-0.9},{"p":"TL","cat":"High-mass PSB (13)","x":-0.212,"y":-0.956},{"p":"TL","cat":"High-mass PSB (13)","x":0.335,"y":-0.682},
{"p":"TL","cat":"Low-mass PSB (2)","x":0.434,"y":-0.821},{"p":"TL","cat":"Low-mass PSB (2)","x":0.484,"y":-0.983},
{"p":"TR","cat":"X-ray (12)","x":1.03,"y":0.493},{"p":"TR","cat":"X-ray (12)","x":1.045,"y":0.47},{"p":"TR","cat":"X-ray (12)","x":1.343,"y":0.516},{"p":"TR","cat":"X-ray (12)","x":1.08,"y":0.386},{"p":"TR","cat":"X-ray (12)","x":1.159,"y":0.345},{"p":"TR","cat":"X-ray (12)","x":1.318,"y":-0.097},{"p":"TR","cat":"X-ray (12)","x":1.924,"y":-0.203},{"p":"TR","cat":"X-ray (12)","x":2.68,"y":-0.25},{"p":"TR","cat":"X-ray (12)","x":0.857,"y":-0.422},{"p":"TR","cat":"X-ray (12)","x":0.822,"y":-0.468},{"p":"TR","cat":"X-ray (12)","x":-0.619,"y":-0.691},{"p":"TR","cat":"X-ray (12)","x":0.335,"y":-0.682},
{"p":"TR","cat":"High-mass PSB (2)","x":1.587,"y":-0.097},{"p":"TR","cat":"High-mass PSB (2)","x":2.194,"y":0.112},
{"p":"TR","cat":"Low-mass PSB (17)","x":1.174,"y":-0.333},{"p":"TR","cat":"Low-mass PSB (17)","x":1.522,"y":-0.473},{"p":"TR","cat":"Low-mass PSB (17)","x":1.711,"y":-0.542},{"p":"TR","cat":"Low-mass PSB (17)","x":2.04,"y":-0.435},{"p":"TR","cat":"Low-mass PSB (17)","x":2.343,"y":-0.463},{"p":"TR","cat":"Low-mass PSB (17)","x":1.587,"y":-0.728},{"p":"TR","cat":"Low-mass PSB (17)","x":1.706,"y":-0.737},{"p":"TR","cat":"Low-mass PSB (17)","x":2.229,"y":-0.719},{"p":"TR","cat":"Low-mass PSB (17)","x":1.97,"y":-0.9},{"p":"TR","cat":"Low-mass PSB (17)","x":2.1,"y":-0.858},{"p":"TR","cat":"Low-mass PSB (17)","x":2.343,"y":-0.867},{"p":"TR","cat":"Low-mass PSB (17)","x":2.542,"y":-0.937},{"p":"TR","cat":"Low-mass PSB (17)","x":2.1,"y":-1.104},{"p":"TR","cat":"Low-mass PSB (17)","x":2.781,"y":-0.357},{"p":"TR","cat":"Low-mass PSB (17)","x":2.965,"y":-0.747},{"p":"TR","cat":"Low-mass PSB (17)","x":2.791,"y":-1.461},{"p":"TR","cat":"Low-mass PSB (17)","x":0.662,"y":-0.774},
{"p":"BL","cat":"X-ray (17)","x":1.974,"y":1.067},{"p":"BL","cat":"X-ray (17)","x":1.736,"y":0.775},{"p":"BL","cat":"X-ray (17)","x":2.729,"y":0.52},{"p":"BL","cat":"X-ray (17)","x":0.389,"y":0.256},{"p":"BL","cat":"X-ray (17)","x":1.03,"y":0.094},{"p":"BL","cat":"X-ray (17)","x":1.12,"y":0.056},{"p":"BL","cat":"X-ray (17)","x":1.964,"y":0.028},{"p":"BL","cat":"X-ray (17)","x":2.645,"y":-0.111},{"p":"BL","cat":"X-ray (17)","x":0.941,"y":-0.338},{"p":"BL","cat":"X-ray (17)","x":1.08,"y":-0.408},{"p":"BL","cat":"X-ray (17)","x":1.726,"y":-0.278},{"p":"BL","cat":"X-ray (17)","x":2.049,"y":-0.213},{"p":"BL","cat":"X-ray (17)","x":1.989,"y":-0.324},{"p":"BL","cat":"X-ray (17)","x":1.477,"y":-0.5},{"p":"BL","cat":"X-ray (17)","x":1.686,"y":-0.523},{"p":"BL","cat":"X-ray (17)","x":0.36,"y":-0.384},{"p":"BL","cat":"X-ray (17)","x":0.285,"y":-0.454},
{"p":"BL","cat":"High-mass PSB (16)","x":-0.992,"y":-0.454},{"p":"BL","cat":"High-mass PSB (16)","x":-1.687,"y":-0.802},{"p":"BL","cat":"High-mass PSB (16)","x":-1.364,"y":-0.788},{"p":"BL","cat":"High-mass PSB (16)","x":-1.17,"y":-0.63},{"p":"BL","cat":"High-mass PSB (16)","x":-1.131,"y":-0.662},{"p":"BL","cat":"High-mass PSB (16)","x":-1.006,"y":-0.616},{"p":"BL","cat":"High-mass PSB (16)","x":-0.932,"y":-0.63},{"p":"BL","cat":"High-mass PSB (16)","x":-0.693,"y":-0.621},{"p":"BL","cat":"High-mass PSB (16)","x":-0.52,"y":-0.584},{"p":"BL","cat":"High-mass PSB (16)","x":-0.251,"y":-0.709},{"p":"BL","cat":"High-mass PSB (16)","x":-0.147,"y":-0.676},{"p":"BL","cat":"High-mass PSB (16)","x":-0.162,"y":-0.723},{"p":"BL","cat":"High-mass PSB (16)","x":0.126,"y":-0.676},{"p":"BL","cat":"High-mass PSB (16)","x":0.201,"y":-0.709},{"p":"BL","cat":"High-mass PSB (16)","x":0.389,"y":-0.825},{"p":"BL","cat":"High-mass PSB (16)","x":0.563,"y":-0.746},
{"p":"BL","cat":"Low-mass PSB (2)","x":0.663,"y":-0.783},{"p":"BL","cat":"Low-mass PSB (2)","x":0.583,"y":-0.95},
{"p":"BR","cat":"X-ray (17)","x":1.974,"y":1.067},{"p":"BR","cat":"X-ray (17)","x":1.736,"y":0.775},{"p":"BR","cat":"X-ray (17)","x":2.729,"y":0.52},{"p":"BR","cat":"X-ray (17)","x":0.389,"y":0.256},{"p":"BR","cat":"X-ray (17)","x":1.03,"y":0.094},{"p":"BR","cat":"X-ray (17)","x":1.12,"y":0.056},{"p":"BR","cat":"X-ray (17)","x":1.964,"y":0.028},{"p":"BR","cat":"X-ray (17)","x":2.645,"y":-0.111},{"p":"BR","cat":"X-ray (17)","x":0.941,"y":-0.338},{"p":"BR","cat":"X-ray (17)","x":1.08,"y":-0.408},{"p":"BR","cat":"X-ray (17)","x":1.726,"y":-0.278},{"p":"BR","cat":"X-ray (17)","x":2.049,"y":-0.213},{"p":"BR","cat":"X-ray (17)","x":1.989,"y":-0.324},{"p":"BR","cat":"X-ray (17)","x":1.477,"y":-0.5},{"p":"BR","cat":"X-ray (17)","x":1.686,"y":-0.523},{"p":"BR","cat":"X-ray (17)","x":0.36,"y":-0.384},{"p":"BR","cat":"X-ray (17)","x":0.285,"y":-0.454},
{"p":"BR","cat":"High-mass PSB (3)","x":0.896,"y":-0.468},{"p":"BR","cat":"High-mass PSB (3)","x":1.085,"y":-0.639},{"p":"BR","cat":"High-mass PSB (3)","x":0.771,"y":-0.755},
{"p":"BR","cat":"Low-mass PSB (10)","x":1.995,"y":0.543},{"p":"BR","cat":"Low-mass PSB (10)","x":3.348,"y":-0.074},{"p":"BR","cat":"Low-mass PSB (10)","x":2.95,"y":-0.222},{"p":"BR","cat":"Low-mass PSB (10)","x":1.279,"y":-0.361},{"p":"BR","cat":"Low-mass PSB (10)","x":1.93,"y":-0.417},{"p":"BR","cat":"Low-mass PSB (10)","x":2.328,"y":-0.505},{"p":"BR","cat":"Low-mass PSB (10)","x":1.721,"y":-0.57},{"p":"BR","cat":"Low-mass PSB (10)","x":1.672,"y":-0.63},{"p":"BR","cat":"Low-mass PSB (10)","x":2.383,"y":-0.76},{"p":"BR","cat":"Low-mass PSB (10)","x":1.458,"y":-0.996}
],
"rules":[{"p":"TL","d":"v","x":0.65},{"p":"TL","d":"h","y":-0.572},{"p":"TR","d":"v","x":0.655},{"p":"TR","d":"h","y":-0.572},{"p":"BL","d":"v","x":0.767},{"p":"BL","d":"h","y":-0.486},{"p":"BR","d":"v","x":0.766},{"p":"BR","d":"h","y":-0.486}],
"boxes":[{"p":"TL","x":-2.199,"x2":0.012,"y":0.261,"y2":0.786},{"p":"BL","x":-2.199,"x2":0.012,"y":0.395,"y2":0.928}],
"notes":[{"p":"TL","x":2.918,"y":1.793,"t":"100%"},{"p":"TL","x":3.365,"y":0.191,"t":"10%"},{"p":"TL","x":1.825,"y":-0.807,"t":"1%"},{"p":"TL","x":-1.096,"y":0.525,"t":"1.0 < z < 1.5"},{"p":"TR","x":2.716,"y":1.593,"t":"100%"},{"p":"TR","x":3.512,"y":0.201,"t":"10%"},{"p":"BL","x":-1.096,"y":0.682,"t":"1.5 < z < 2.0"},{"p":"BL","x":-0.783,"y":-1.427,"t":"MIR non-excess"},{"p":"BR","x":3.005,"y":-1.427,"t":"MIR excess"}]
},
"columns":2,
"spacing":{"row":17,"column":0},
"bounds":"flush",
"resolve":{"scale":{"shape":"independent","fill":"independent","stroke":"independent"},"legend":{"shape":"independent","fill":"independent","stroke":"independent"}},
"concat":[
{"width":425,"height":348,"layer":[
{"data":{"name":"contours"},"transform":[{"filter":"datum.p==='TL' && datum.g==='psb_out'"}],"mark":{"type":"line","interpolate":"cardinal-closed","fill":"#999999","stroke":"black","strokeWidth":1.5,"clip":true},"encoding":{"x":{"field":"x","type":"quantitative","scale":{"domain":[-2.35,4],"nice":false,"zero":false},"axis":{"values":[-2,-1,0,1,2,3,4],"labels":false,"title":null}},"y":{"field":"y","type":"quantitative","scale":{"domain":[-1.71,3.135],"nice":false,"zero":false},"axis":{"values":[-1,0,1,2,3],"title":"F444W — F770W","titlePadding":6}},"detail":{"field":"c"},"order":{"field":"i","type":"quantitative"}}},
{"data":{"name":"contours"},"transform":[{"filter":"datum.p==='TL' && datum.g==='psb_in'"}],"mark":{"type":"line","interpolate":"cardinal-closed","fill":"#333333","stroke":"black","strokeWidth":1.5,"clip":true},"encoding":{"x":{"field":"x","type":"quantitative"},"y":{"field":"y","type":"quantitative"},"detail":{"field":"c"},"order":{"field":"i","type":"quantitative"}}},
{"data":{"name":"contours"},"transform":[{"filter":"datum.p==='TL' && datum.g==='agn_out'"}],"mark":{"type":"line","interpolate":"cardinal-closed","stroke":"#999999","strokeWidth":1.5,"clip":true},"encoding":{"x":{"field":"x","type":"quantitative"},"y":{"field":"y","type":"quantitative"},"detail":{"field":"c"},"order":{"field":"i","type":"quantitative"}}},
{"data":{"name":"contours"},"transform":[{"filter":"datum.p==='TL' && datum.g==='agn_in'"}],"mark":{"type":"line","interpolate":"cardinal-closed","stroke":"black","strokeWidth":1.5,"clip":true},"encoding":{"x":{"field":"x","type":"quantitative"},"y":{"field":"y","type":"quantitative"},"detail":{"field":"c"},"order":{"field":"i","type":"quantitative"}}},
{"data":{"name":"rules"},"transform":[{"filter":"datum.p==='TL' && datum.d==='v'"}],"mark":{"type":"rule","stroke":"#777777","strokeDash":[5,3],"strokeWidth":1.2},"encoding":{"x":{"field":"x","type":"quantitative"}}},
{"data":{"name":"rules"},"transform":[{"filter":"datum.p==='TL' && datum.d==='h'"}],"mark":{"type":"rule","stroke":"#777777","strokeDash":[5,3],"strokeWidth":1.2},"encoding":{"y":{"field":"y","type":"quantitative"}}},
{"data":{"name":"boxes"},"transform":[{"filter":"datum.p==='TL'"}],"mark":{"type":"rect","fill":"white","stroke":"black","strokeWidth":1,"cornerRadius":8},"encoding":{"x":{"field":"x","type":"quantitative"},"x2":{"field":"x2"},"y":{"field":"y","type":"quantitative"},"y2":{"field":"y2"}}},
{"data":{"name":"notes"},"transform":[{"filter":"datum.p==='TL'"}],"mark":{"type":"text","fontSize":18.5,"font":"DejaVu Sans","color":"black","align":"center","baseline":"middle"},"encoding":{"x":{"field":"x","type":"quantitative"},"y":{"field":"y","type":"quantitative"},"text":{"field":"t"}}},
{"data":{"name":"pts"},"transform":[{"filter":"datum.p==='TL'"}],"mark":{"type":"point","filled":true,"size":187,"strokeWidth":0.8,"opacity":1},"encoding":{"x":{"field":"x","type":"quantitative"},"y":{"field":"y","type":"quantitative"},
"shape":{"field":"cat","type":"nominal","scale":{"domain":["X-ray (12)","High-mass PSB (13)","Low-mass PSB (2)","PSB + Obscured AGN"],"range":["M0,-1L0.2245,-0.309L0.9511,-0.309L0.3633,0.118L0.5878,0.809L0,0.382L-0.5878,0.809L-0.3633,0.118L-0.9511,-0.309L-0.2245,-0.309Z","M-0.62,-0.62L0.62,-0.62L0.62,0.62L-0.62,0.62Z","M-0.22,-0.65L0.22,-0.65L0.22,-0.22L0.65,-0.22L0.65,0.22L0.22,0.22L0.22,0.65L-0.22,0.65L-0.22,0.22L-0.65,0.22L-0.65,-0.22L-0.22,-0.22Z","M-1.15,0A1.15,1.15,0,1,1,1.15,0A1.15,1.15,0,1,1,-1.15,0ZM-0.85,0A0.85,0.85,0,1,0,0.85,0A0.85,0.85,0,1,0,-0.85,0ZM-0.62,0A0.62,0.62,0,1,1,0.62,0A0.62,0.62,0,1,1,-0.62,0ZM-0.42,0A0.42,0.42,0,1,0,0.42,0A0.42,0.42,0,1,0,-0.42,0Z"]}},
"fill":{"field":"cat","type":"nominal","scale":{"domain":["X-ray (12)","High-mass PSB (13)","Low-mass PSB (2)","PSB + Obscured AGN"],"range":["#FFA500","#A0522D","#32CD32","#555555"]}},
"stroke":{"field":"cat","type":"nominal","scale":{"domain":["X-ray (12)","High-mass PSB (13)","Low-mass PSB (2)","PSB + Obscured AGN"],"range":["#FFA500","black","black","transparent"]}}}}
]},
{"width":425,"height":348,"layer":[
{"data":{"name":"contours"},"transform":[{"filter":"datum.p==='TR' && datum.g==='psb_out'"}],"mark":{"type":"line","interpolate":"cardinal-closed","fill":"#999999","stroke":"black","strokeWidth":1.5,"clip":true},"encoding":{"x":{"field":"x","type":"quantitative","scale":{"domain":[-2.35,4],"nice":false,"zero":false},"axis":{"values":[-2,-1,0,1,2,3,4],"labels":false,"title":null}},"y":{"field":"y","type":"quantitative","scale":{"domain":[-1.71,3.135],"nice":false,"zero":false},"axis":{"values":[-1,0,1,2,3],"labels":false,"title":null}},"detail":{"field":"c"},"order":{"field":"i","type":"quantitative"}}},
{"data":{"name":"contours"},"transform":[{"filter":"datum.p==='TR' && datum.g==='psb_in'"}],"mark":{"type":"line","interpolate":"cardinal-closed","fill":"#333333","stroke":"black","strokeWidth":1.5,"clip":true},"encoding":{"x":{"field":"x","type":"quantitative"},"y":{"field":"y","type":"quantitative"},"detail":{"field":"c"},"order":{"field":"i","type":"quantitative"}}},
{"data":{"name":"contours"},"transform":[{"filter":"datum.p==='TR' && datum.g==='agn_out'"}],"mark":{"type":"line","interpolate":"cardinal-closed","stroke":"#999999","strokeWidth":1.5,"clip":true},"encoding":{"x":{"field":"x","type":"quantitative"},"y":{"field":"y","type":"quantitative"},"detail":{"field":"c"},"order":{"field":"i","type":"quantitative"}}},
{"data":{"name":"contours"},"transform":[{"filter":"datum.p==='TR' && datum.g==='agn_in'"}],"mark":{"type":"line","interpolate":"cardinal-closed","stroke":"black","strokeWidth":1.5,"clip":true},"encoding":{"x":{"field":"x","type":"quantitative"},"y":{"field":"y","type":"quantitative"},"detail":{"field":"c"},"order":{"field":"i","type":"quantitative"}}},
{"data":{"name":"rules"},"transform":[{"filter":"datum.p==='TR' && datum.d==='v'"}],"mark":{"type":"rule","stroke":"#777777","strokeDash":[5,3],"strokeWidth":1.2},"encoding":{"x":{"field":"x","type":"quantitative"}}},
{"data":{"name":"rules"},"transform":[{"filter":"datum.p==='TR' && datum.d==='h'"}],"mark":{"type":"rule","stroke":"#777777","strokeDash":[5,3],"strokeWidth":1.2},"encoding":{"y":{"field":"y","type":"quantitative"}}},
{"data":{"name":"notes"},"transform":[{"filter":"datum.p==='TR'"}],"mark":{"type":"text","fontSize":18.5,"font":"DejaVu Sans","color":"black","align":"center","baseline":"middle"},"encoding":{"x":{"field":"x","type":"quantitative"},"y":{"field":"y","type":"quantitative"},"text":{"field":"t"}}},
{"data":{"name":"pts"},"transform":[{"filter":"datum.p==='TR'"}],"mark":{"type":"point","filled":true,"size":187,"strokeWidth":0.8,"opacity":1},"encoding":{"x":{"field":"x","type":"quantitative"},"y":{"field":"y","type":"quantitative"},
"shape":{"field":"cat","type":"nominal","scale":{"domain":["X-ray (12)","High-mass PSB (2)","Low-mass PSB (17)","PSB + Obscured AGN"],"range":["M0,-1L0.2245,-0.309L0.9511,-0.309L0.3633,0.118L0.5878,0.809L0,0.382L-0.5878,0.809L-0.3633,0.118L-0.9511,-0.309L-0.2245,-0.309Z","M-0.62,-0.62L0.62,-0.62L0.62,0.62L-0.62,0.62Z","M-0.22,-0.65L0.22,-0.65L0.22,-0.22L0.65,-0.22L0.65,0.22L0.22,0.22L0.22,0.65L-0.22,0.65L-0.22,0.22L-0.65,0.22L-0.65,-0.22L-0.22,-0.22Z","M-1.15,0A1.15,1.15,0,1,1,1.15,0A1.15,1.15,0,1,1,-1.15,0ZM-0.85,0A0.85,0.85,0,1,0,0.85,0A0.85,0.85,0,1,0,-0.85,0ZM-0.62,0A0.62,0.62,0,1,1,0.62,0A0.62,0.62,0,1,1,-0.62,0ZM-0.42,0A0.42,0.42,0,1,0,0.42,0A0.42,0.42,0,1,0,-0.42,0Z"]}},
"fill":{"field":"cat","type":"nominal","scale":{"domain":["X-ray (12)","High-mass PSB (2)","Low-mass PSB (17)","PSB + Obscured AGN"],"range":["#FFA500","#A0522D","#32CD32","#555555"]}},
"stroke":{"field":"cat","type":"nominal","scale":{"domain":["X-ray (12)","High-mass PSB (2)","Low-mass PSB (17)","PSB + Obscured AGN"],"range":["#FFA500","black","black","transparent"]}}}}
]},
{"width":425,"height":348,"layer":[
{"data":{"name":"contours"},"transform":[{"filter":"datum.p==='BL' && datum.g==='psb_out'"}],"mark":{"type":"line","interpolate":"cardinal-closed","fill":"#999999","stroke":"black","strokeWidth":1.5,"clip":true},"encoding":{"x":{"field":"x","type":"quantitative","scale":{"domain":[-2.35,4],"nice":false,"zero":false},"axis":{"values":[-2,-1,0,1,2,3,4],"title":"F770W — F1800W","titlePadding":5}},"y":{"field":"y","type":"quantitative","scale":{"domain":[-1.71,3.135],"nice":false,"zero":false},"axis":{"values":[-1,0,1,2,3],"title":"F444W — F770W","titlePadding":6}},"detail":{"field":"c"},"order":{"field":"i","type":"quantitative"}}},
{"data":{"name":"contours"},"transform":[{"filter":"datum.p==='BL' && datum.g==='psb_in'"}],"mark":{"type":"line","interpolate":"cardinal-closed","fill":"#333333","stroke":"black","strokeWidth":1.5,"clip":true},"encoding":{"x":{"field":"x","type":"quantitative"},"y":{"field":"y","type":"quantitative"},"detail":{"field":"c"},"order":{"field":"i","type":"quantitative"}}},
{"data":{"name":"contours"},"transform":[{"filter":"datum.p==='BL' && datum.g==='agn_out'"}],"mark":{"type":"line","interpolate":"cardinal-closed","stroke":"#999999","strokeWidth":1.5,"clip":true},"encoding":{"x":{"field":"x","type":"quantitative"},"y":{"field":"y","type":"quantitative"},"detail":{"field":"c"},"order":{"field":"i","type":"quantitative"}}},
{"data":{"name":"contours"},"transform":[{"filter":"datum.p==='BL' && datum.g==='agn_in'"}],"mark":{"type":"line","interpolate":"cardinal-closed","stroke":"black","strokeWidth":1.5,"clip":true},"encoding":{"x":{"field":"x","type":"quantitative"},"y":{"field":"y","type":"quantitative"},"detail":{"field":"c"},"order":{"field":"i","type":"quantitative"}}},
{"data":{"name":"rules"},"transform":[{"filter":"datum.p==='BL' && datum.d==='v'"}],"mark":{"type":"rule","stroke":"#777777","strokeDash":[5,3],"strokeWidth":1.2},"encoding":{"x":{"field":"x","type":"quantitative"}}},
{"data":{"name":"rules"},"transform":[{"filter":"datum.p==='BL' && datum.d==='h'"}],"mark":{"type":"rule","stroke":"#777777","strokeDash":[5,3],"strokeWidth":1.2},"encoding":{"y":{"field":"y","type":"quantitative"}}},
{"data":{"name":"boxes"},"transform":[{"filter":"datum.p==='BL'"}],"mark":{"type":"rect","fill":"white","stroke":"black","strokeWidth":1,"cornerRadius":8},"encoding":{"x":{"field":"x","type":"quantitative"},"x2":{"field":"x2"},"y":{"field":"y","type":"quantitative"},"y2":{"field":"y2"}}},
{"data":{"name":"notes"},"transform":[{"filter":"datum.p==='BL'"}],"mark":{"type":"text","fontSize":18.5,"font":"DejaVu Sans","color":"black","align":"center","baseline":"middle"},"encoding":{"x":{"field":"x","type":"quantitative"},"y":{"field":"y","type":"quantitative"},"text":{"field":"t"}}},
{"data":{"name":"pts"},"transform":[{"filter":"datum.p==='BL'"}],"mark":{"type":"point","filled":true,"size":187,"strokeWidth":0.8,"opacity":1},"encoding":{"x":{"field":"x","type":"quantitative"},"y":{"field":"y","type":"quantitative"},
"shape":{"field":"cat","type":"nominal","scale":{"domain":["X-ray (17)","High-mass PSB (16)","Low-mass PSB (2)","PSB + Obscured AGN"],"range":["M0,-1L0.2245,-0.309L0.9511,-0.309L0.3633,0.118L0.5878,0.809L0,0.382L-0.5878,0.809L-0.3633,0.118L-0.9511,-0.309L-0.2245,-0.309Z","M-0.62,-0.62L0.62,-0.62L0.62,0.62L-0.62,0.62Z","M-0.22,-0.65L0.22,-0.65L0.22,-0.22L0.65,-0.22L0.65,0.22L0.22,0.22L0.22,0.65L-0.22,0.65L-0.22,0.22L-0.65,0.22L-0.65,-0.22L-0.22,-0.22Z","M-1.15,0A1.15,1.15,0,1,1,1.15,0A1.15,1.15,0,1,1,-1.15,0ZM-0.85,0A0.85,0.85,0,1,0,0.85,0A0.85,0.85,0,1,0,-0.85,0ZM-0.62,0A0.62,0.62,0,1,1,0.62,0A0.62,0.62,0,1,1,-0.62,0ZM-0.42,0A0.42,0.42,0,1,0,0.42,0A0.42,0.42,0,1,0,-0.42,0Z"]}},
"fill":{"field":"cat","type":"nominal","scale":{"domain":["X-ray (17)","High-mass PSB (16)","Low-mass PSB (2)","PSB + Obscured AGN"],"range":["#FFA500","#A0522D","#32CD32","#555555"]}},
"stroke":{"field":"cat","type":"nominal","scale":{"domain":["X-ray (17)","High-mass PSB (16)","Low-mass PSB (2)","PSB + Obscured AGN"],"range":["#FFA500","black","black","transparent"]}}}}
]},
{"width":425,"height":348,"layer":[
{"data":{"name":"contours"},"transform":[{"filter":"datum.p==='BR' && datum.g==='psb_out'"}],"mark":{"type":"line","interpolate":"cardinal-closed","fill":"#999999","stroke":"black","strokeWidth":1.5,"clip":true},"encoding":{"x":{"field":"x","type":"quantitative","scale":{"domain":[-2.35,4],"nice":false,"zero":false},"axis":{"values":[-2,-1,0,1,2,3,4],"title":"F770W — F1800W","titlePadding":5}},"y":{"field":"y","type":"quantitative","scale":{"domain":[-1.71,3.135],"nice":false,"zero":false},"axis":{"values":[-1,0,1,2,3],"labels":false,"title":null}},"detail":{"field":"c"},"order":{"field":"i","type":"quantitative"}}},
{"data":{"name":"contours"},"transform":[{"filter":"datum.p==='BR' && datum.g==='psb_in'"}],"mark":{"type":"line","interpolate":"cardinal-closed","fill":"#333333","stroke":"black","strokeWidth":1.5,"clip":true},"encoding":{"x":{"field":"x","type":"quantitative"},"y":{"field":"y","type":"quantitative"},"detail":{"field":"c"},"order":{"field":"i","type":"quantitative"}}},
{"data":{"name":"contours"},"transform":[{"filter":"datum.p==='BR' && datum.g==='agn_out'"}],"mark":{"type":"line","interpolate":"cardinal-closed","stroke":"#999999","strokeWidth":1.5,"clip":true},"encoding":{"x":{"field":"x","type":"quantitative"},"y":{"field":"y","type":"quantitative"},"detail":{"field":"c"},"order":{"field":"i","type":"quantitative"}}},
{"data":{"name":"contours"},"transform":[{"filter":"datum.p==='BR' && datum.g==='agn_in'"}],"mark":{"type":"line","interpolate":"cardinal-closed","stroke":"black","strokeWidth":1.5,"clip":true},"encoding":{"x":{"field":"x","type":"quantitative"},"y":{"field":"y","type":"quantitative"},"detail":{"field":"c"},"order":{"field":"i","type":"quantitative"}}},
{"data":{"name":"rules"},"transform":[{"filter":"datum.p==='BR' && datum.d==='v'"}],"mark":{"type":"rule","stroke":"#777777","strokeDash":[5,3],"strokeWidth":1.2},"encoding":{"x":{"field":"x","type":"quantitative"}}},
{"data":{"name":"rules"},"transform":[{"filter":"datum.p==='BR' && datum.d==='h'"}],"mark":{"type":"rule","stroke":"#777777","strokeDash":[5,3],"strokeWidth":1.2},"encoding":{"y":{"field":"y","type":"quantitative"}}},
{"data":{"name":"notes"},"transform":[{"filter":"datum.p==='BR'"}],"mark":{"type":"text","fontSize":18.5,"font":"DejaVu Sans","color":"black","align":"center","baseline":"middle"},"encoding":{"x":{"field":"x","type":"quantitative"},"y":{"field":"y","type":"quantitative"},"text":{"field":"t"}}},
{"data":{"name":"pts"},"transform":[{"filter":"datum.p==='BR'"}],"mark":{"type":"point","filled":true,"size":187,"strokeWidth":0.8,"opacity":1},"encoding":{"x":{"field":"x","type":"quantitative"},"y":{"field":"y","type":"quantitative"},
"shape":{"field":"cat","type":"nominal","scale":{"domain":["X-ray (17)","High-mass PSB (3)","Low-mass PSB (10)","PSB + Obscured AGN"],"range":["M0,-1L0.2245,-0.309L0.9511,-0.309L0.3633,0.118L0.5878,0.809L0,0.382L-0.5878,0.809L-0.3633,0.118L-0.9511,-0.309L-0.2245,-0.309Z","M-0.62,-0.62L0.62,-0.62L0.62,0.62L-0.62,0.62Z","M-0.22,-0.65L0.22,-0.65L0.22,-0.22L0.65,-0.22L0.65,0.22L0.22,0.22L0.22,0.65L-0.22,0.65L-0.22,0.22L-0.65,0.22L-0.65,-0.22L-0.22,-0.22Z","M-1.15,0A1.15,1.15,0,1,1,1.15,0A1.15,1.15,0,1,1,-1.15,0ZM-0.85,0A0.85,0.85,0,1,0,0.85,0A0.85,0.85,0,1,0,-0.85,0ZM-0.62,0A0.62,0.62,0,1,1,0.62,0A0.62,0.62,0,1,1,-0.62,0ZM-0.42,0A0.42,0.42,0,1,0,0.42,0A0.42,0.42,0,1,0,-0.42,0Z"]}},
"fill":{"field":"cat","type":"nominal","scale":{"domain":["X-ray (17)","High-mass PSB (3)","Low-mass PSB (10)","PSB + Obscured AGN"],"range":["#FFA500","#A0522D","#32CD32","#555555"]}},
"stroke":{"field":"cat","type":"nominal","scale":{"domain":["X-ray (17)","High-mass PSB (3)","Low-mass PSB (10)","PSB + Obscured AGN"],"range":["#FFA500","black","black","transparent"]}}}}
]}
]
}
